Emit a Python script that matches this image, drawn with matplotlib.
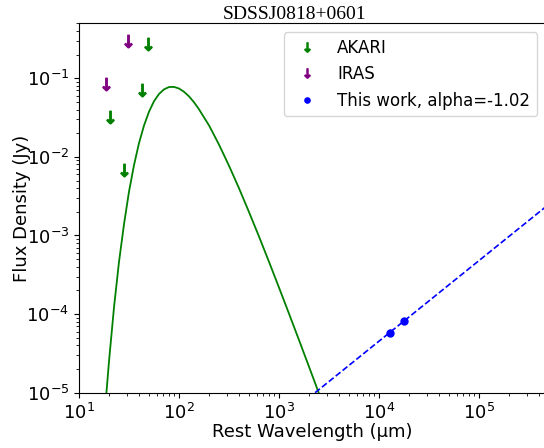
import matplotlib
matplotlib.use("Agg")
import matplotlib.pyplot as plt

# AKARI upper limits (rest wavelength in micron, flux in Jy)
akari_wl = [49.0, 42.7, 20.4, 28.2]
akari_flux = [0.273, 0.071, 0.032, 0.0068]

# IRAS upper limits
iras_wl = [30.9, 18.6]
iras_flux = [0.30, 0.085]

# radio detections from this work
work_wl = [12800, 17660]
work_flux = [5.8e-5, 8.2e-5]
work_err = [0.6e-5, 0.7e-5]

# power-law fit through the radio points (alpha = -1.02)
fit_wl = [2300, 4.7e5]
fit_flux = [1.0e-5, 2.33e-3]

# dust curve
dust_wl = [17.8, 20.0, 22.4, 25.1, 28.2, 31.6, 35.5, 39.8, 44.7, 50.1, 56.2,
           63.1, 70.8, 79.4, 89.1, 100, 112, 126, 141, 158, 200, 251, 316,
           398, 501, 631, 794, 1000, 1259, 1585, 1995, 2512]
dust_flux = [4.29e-6, 2.58e-5, 1.22e-4, 4.56e-4, 1.39e-3, 3.58e-3, 7.85e-3,
             0.0149, 0.0250, 0.0374, 0.0508, 0.0630, 0.0721, 0.0773, 0.0776,
             0.0741, 0.0675, 0.0589, 0.0497, 0.0406, 0.0251, 0.0144, 7.76e-3,
             4.01e-3, 2.00e-3, 9.75e-4, 4.66e-4, 2.19e-4, 1.02e-4, 4.71e-5,
             2.16e-5, 9.84e-6]

fig = plt.figure(figsize=(5.44, 4.48), dpi=100)
ax = fig.add_axes([79 / 544, 55.3 / 448, 467 / 544, 369.4 / 448])

ax.plot(dust_wl, dust_flux, color="green", lw=1.3)
ax.plot(fit_wl, fit_flux, color="blue", ls="--", lw=1.2)

ax.plot(akari_wl, akari_flux, ls="none", marker=r"$\downarrow$",
        color="green", ms=9, label="AKARI")
ax.plot(iras_wl, iras_flux, ls="none", marker=r"$\downarrow$",
        color="purple", ms=9, label="IRAS")
ax.errorbar(work_wl, work_flux, yerr=work_err, fmt="none", ecolor="blue", lw=1)
ax.plot(work_wl, work_flux, ls="none", marker="o", color="blue", ms=5,
        label="This work, alpha=-1.02")

ax.set_xscale("log")
ax.set_yscale("log")
ax.set_xlim(10, 4.7e5)
ax.set_ylim(1e-5, 0.5)
ax.tick_params(labelsize=13)

ax.set_xlabel("Rest Wavelength (\u03bcm)", fontsize=13, labelpad=0)
ax.set_ylabel("Flux Density (Jy)", fontsize=13)
ax.yaxis.set_label_coords(-0.103, 0.5)
ax.set_title("SDSSJ0818+0601", family="Liberation Serif", fontsize=14,
             x=0.4625, pad=3)

ax.legend(loc="upper right", fontsize=12, markerscale=0.75,
          bbox_to_anchor=(0.9985, 0.9985))

fig.savefig("out.png", dpi=100)
